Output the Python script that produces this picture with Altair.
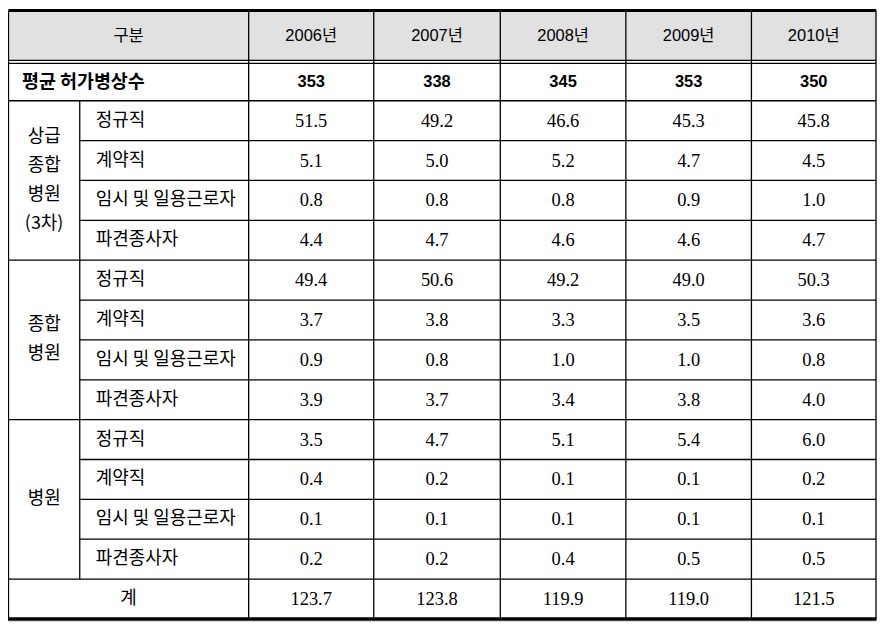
import altair as alt
import pandas as pd

# ---------------- data ----------------
years = ["2006년", "2007년", "2008년", "2009년", "2010년"]
avg_beds = [353, 338, 345, 353, 350]
groups = ["상급\n종합\n병원\n(3차)", "종합\n병원", "병원"]
types = ["정규직", "계약직", "임시 및 일용근로자", "파견종사자"]

tertiary_vals = [
    [51.5, 49.2, 46.6, 45.3, 45.8],
    [5.1, 5.0, 5.2, 4.7, 4.5],
    [0.8, 0.8, 0.8, 0.9, 1.0],
    [4.4, 4.7, 4.6, 4.6, 4.7],
]
general_vals = [
    [49.4, 50.6, 49.2, 49.0, 50.3],
    [3.7, 3.8, 3.3, 3.5, 3.6],
    [0.9, 0.8, 1.0, 1.0, 0.8],
    [3.9, 3.7, 3.4, 3.8, 4.0],
]
hospital_vals = [
    [3.5, 4.7, 5.1, 5.4, 6.0],
    [0.4, 0.2, 0.1, 0.1, 0.2],
    [0.1, 0.1, 0.1, 0.1, 0.1],
    [0.2, 0.2, 0.4, 0.5, 0.5],
]
total_vals = [123.7, 123.8, 119.9, 119.0, 121.5]
header_label = "구분"
avg_label = "평균 허가병상수"
total_label = "계"

# ---------------- layout ----------------
W, H = 872, 614
col_edges = [0.5, 72, 241.5, 367, 494, 620, 746, 871]   # group | type | years...
header_top = 1.5
row_h = 40
first_row_top = 92
line_h = 29

year_centers = [(col_edges[2 + k] + col_edges[3 + k]) / 2 for k in range(len(years))]

# ---------------- tables ----------------
head_mid = (header_top + 51.5) / 2 + 1
header_rows = [{"x": (col_edges[0] + col_edges[2]) / 2, "y": head_mid, "t": header_label}]
for k, yr in enumerate(years):
    header_rows.append({"x": year_centers[k], "y": head_mid, "t": yr})
header_df = pd.DataFrame(header_rows)

avg_mid = (54.5 + first_row_top) / 2
avg_df = pd.DataFrame([{"x": year_centers[k], "y": avg_mid, "t": str(v)} for k, v in enumerate(avg_beds)])
avg_label_df = pd.DataFrame([{"x": 14, "y": avg_mid, "t": avg_label}])

all_vals = [tertiary_vals, general_vals, hospital_vals]
num_rows, type_rows, group_rows = [], [], []
for g, gname in enumerate(groups):
    g_top = first_row_top + g * len(types) * row_h
    center = g_top + len(types) * row_h / 2
    parts = gname.split("\n")
    n = len(parts)
    for i, p in enumerate(parts):
        group_rows.append({"x": (col_edges[0] + col_edges[1]) / 2,
                           "y": center + (i - (n - 1) / 2) * line_h, "t": p})
    for r, tname in enumerate(types):
        ym = g_top + r * row_h + row_h / 2
        type_rows.append({"x": col_edges[1] + 16, "y": ym, "t": tname})
        for k, v in enumerate(all_vals[g][r]):
            num_rows.append({"x": year_centers[k], "y": ym, "t": f"{v:.1f}"})
tot_top = first_row_top + len(groups) * len(types) * row_h
tot_mid = tot_top + row_h / 2
for k, v in enumerate(total_vals):
    num_rows.append({"x": year_centers[k], "y": tot_mid, "t": f"{v:.1f}"})
group_rows.append({"x": (col_edges[0] + col_edges[2]) / 2, "y": tot_mid, "t": total_label})
num_df = pd.DataFrame(num_rows)
type_df = pd.DataFrame(type_rows)
group_df = pd.DataFrame(group_rows)
bottom = tot_top + row_h

# rules
lines = []
def hl(y, x1, x2, w):
    lines.append({"x": x1, "x2": x2, "y": y, "y2": y, "w": w})
def vl(x, y1, y2, w):
    lines.append({"x": x, "x2": x, "y": y1, "y2": y2, "w": w})

hl(header_top, col_edges[0], col_edges[-1], 3)
hl(51.5, col_edges[0], col_edges[-1], 1.2)
hl(54.5, col_edges[0], col_edges[-1], 1.2)
hl(first_row_top, col_edges[0], col_edges[-1], 1.3)
for g in range(len(groups)):
    g_top = first_row_top + g * len(types) * row_h
    for r in range(1, len(types)):
        hl(g_top + r * row_h, col_edges[1], col_edges[-1], 1.3)
    hl(g_top + len(types) * row_h, col_edges[0], col_edges[-1], 1.3)
hl(bottom, col_edges[0] - 0.5, col_edges[-1] + 0.5, 3.5)
vl(col_edges[0], header_top, bottom, 1.3)
vl(col_edges[1], first_row_top, tot_top, 1.3)
for x in col_edges[2:]:
    vl(x, header_top, bottom, 1.3)
lines_df = pd.DataFrame(lines)

bg_df = pd.DataFrame([{"x": col_edges[0], "x2": col_edges[-1], "y": header_top, "y2": 51.5}])

xs = alt.Scale(domain=[0, W], range=[0, W])
ys = alt.Scale(domain=[0, H], range=[0, H])
X = lambda f="x": alt.X(f"{f}:Q", scale=xs, axis=None)
Y = lambda f="y": alt.Y(f"{f}:Q", scale=ys, axis=None)

bg = alt.Chart(bg_df).mark_rect(color="#e1e1e1").encode(
    x=X(), x2="x2:Q", y=Y(), y2="y2:Q")

rules = alt.Chart(lines_df).mark_rule(color="black").encode(
    x=X(), x2="x2:Q", y=Y(), y2="y2:Q",
    strokeWidth=alt.StrokeWidth("w:Q", scale=None, legend=None))

SANS = "Liberation Sans, Noto Sans CJK KR"
KR = "Noto Sans CJK KR"
SERIF = "Liberation Serif"

head_t = alt.Chart(header_df).mark_text(font=SANS, fontSize=16.5, color="black",
                                        baseline="middle", align="center").encode(
    x=X(), y=Y(), text="t:N")
avg_t = alt.Chart(avg_df).mark_text(font="Liberation Sans", fontSize=16.5, fontWeight="bold",
                                    color="black", baseline="middle", align="center").encode(
    x=X(), y=Y(), text="t:N")
avg_l = alt.Chart(avg_label_df).mark_text(font=KR, fontSize=18.5, fontWeight="bold",
                                          color="black", baseline="middle", align="left").encode(
    x=X(), y=Y(), text="t:N")
num_t = alt.Chart(num_df).mark_text(font=SERIF, fontSize=18.5, color="black",
                                    baseline="middle", align="center").encode(
    x=X(), y=Y(), text="t:N")
type_t = alt.Chart(type_df).mark_text(font=KR, fontSize=18, color="black",
                                      baseline="middle", align="left").encode(
    x=X(), y=Y(), text="t:N")
grp_t = alt.Chart(group_df).mark_text(font=KR, fontSize=18, color="black",
                                      baseline="middle", align="center").encode(
    x=X(), y=Y(), text="t:N")

chart = alt.layer(bg, rules, head_t, avg_t, avg_l, num_t, type_t, grp_t).properties(
    width=W, height=H, padding=0, autosize="none"
).configure_view(stroke=None).configure(background="white")

chart.save("out.html", embed_options={"renderer": "svg", "actions": False})
